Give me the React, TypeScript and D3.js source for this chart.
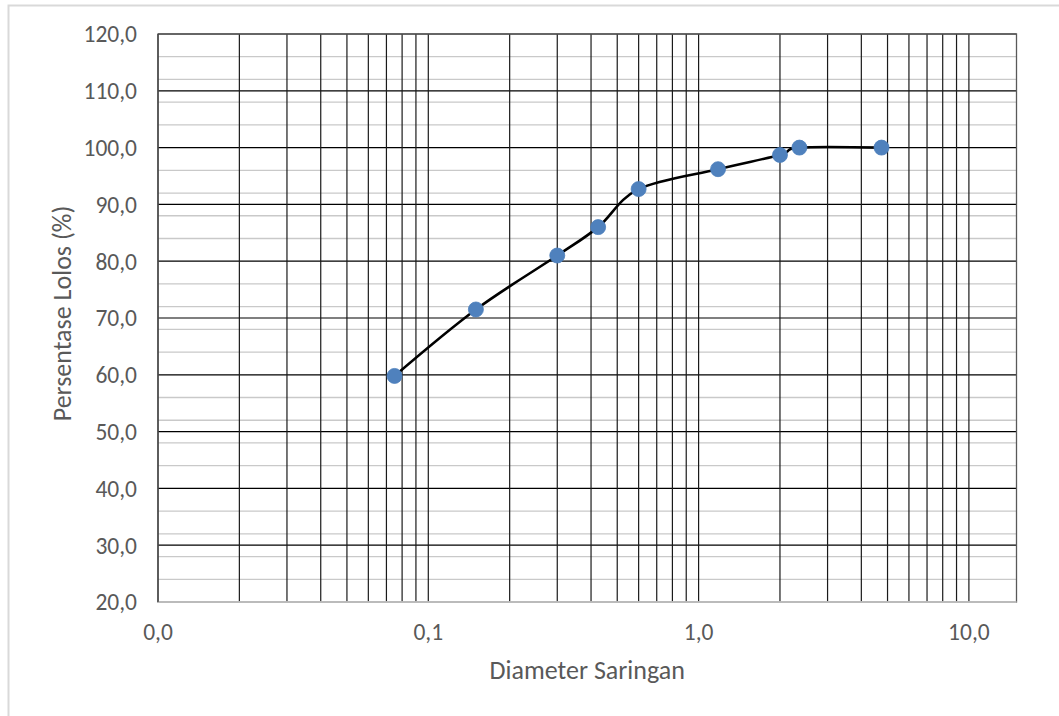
import React from "react";
import * as d3 from "d3";

const sieveSizes = [0.075, 0.15, 0.3, 0.425, 0.6, 1.18, 2.0, 2.36, 4.75];
const passingPct = [59.8, 71.5, 81.0, 86.0, 92.7, 96.2, 98.7, 100.0, 100.0];
const xTickValues = [0.01, 0.1, 1, 10];
const xTickLabels = ["0,0", "0,1", "1,0", "10,0"];
const yMajorTicks = [20, 30, 40, 50, 60, 70, 80, 90, 100, 110, 120];
const xTitle = "Diameter Saringan";
const yTitle = "Persentase Lolos (%)";

export default function App() {
  const W = 1059, H = 716;
  const left = 158, right = 1016.5, top = 34, bottom = 602;
  const x = d3.scaleLog().domain([0.01, 15]).range([left, right]);
  const y = d3.scaleLinear().domain([20, 120]).range([bottom, top]);

  const vLines: number[] = [];
  for (let e = -2; e <= 1; e++) {
    for (let m = 1; m <= 9; m++) {
      const v = m * Math.pow(10, e);
      if (v > 0.01 && v <= 15) vLines.push(v);
    }
  }
  const minorY: number[] = [];
  for (let v = 24; v < 120; v += 4) if (v % 10 !== 0) minorY.push(v);

  const line = d3
    .line<number>()
    .x((_, i) => x(sieveSizes[i]))
    .y((d) => y(d))
    .curve(d3.curveCardinal.tension(0));

  const font = "Carlito, Calibri, 'Open Sans', sans-serif";

  return (
    <svg width={W} height={H} style={{ position: "absolute", left: 0, top: 0 }}>
      <rect x={0} y={0} width={W} height={H} fill="#fff" />
      <rect x={8.5} y={5.5} width={1060} height={800} fill="none" stroke="#d9d9d9" strokeWidth={2} />
      {minorY.map((v) => (
        <line key={"my" + v} x1={left} x2={right} y1={y(v)} y2={y(v)} stroke="#c9c9c9" strokeWidth={1.3} />
      ))}
      {yMajorTicks.map((v) => (
        <line key={"My" + v} x1={left} x2={right} y1={y(v)} y2={y(v)} stroke="#000" strokeWidth={1.2} />
      ))}
      {vLines.map((v) => (
        <line key={"vx" + v} x1={x(v)} x2={x(v)} y1={top} y2={bottom} stroke="#1a1a1a" strokeWidth={1.2} />
      ))}
      <rect x={left} y={top} width={right - left} height={bottom - top} fill="none" stroke="#595959" strokeWidth={1.3} />
      <line x1={left} x2={right} y1={bottom} y2={bottom} stroke="#d9d9d9" strokeWidth={1.5} />
      <line x1={left} x2={left} y1={top} y2={bottom} stroke="#404040" strokeWidth={1.3} />
      {yMajorTicks.map((v) => (
        <text key={"yl" + v} x={137} y={y(v) + 8.3} textAnchor="end" fontFamily={font} fontSize={23.5} fill="#595959">
          {(v.toFixed(1)).replace(".", ",")}
        </text>
      ))}
      {xTickValues.map((v, i) => (
        <text key={"xl" + v} x={x(v)} y={640} textAnchor="middle" fontFamily={font} fontSize={23.5} fill="#595959">
          {xTickLabels[i]}
        </text>
      ))}
      <text x={(left + right) / 2} y={679} textAnchor="middle" fontFamily={font} fontSize={26} fill="#595959">
        {xTitle}
      </text>
      <text
        transform={`translate(70.5, 313.5) rotate(-90)`}
        textAnchor="middle"
        fontFamily={font}
        fontSize={26}
        fill="#595959"
      >
        {yTitle}
      </text>
      <path d={line(passingPct) || ""} fill="none" stroke="#000" strokeWidth={2.6} />
      {passingPct.map((v, i) => (
        <circle key={"p" + i} cx={x(sieveSizes[i])} cy={y(v)} r={7.5} fill="#4f81bd" stroke="#4a7ebb" strokeWidth={0.8} />
      ))}
    </svg>
  );
}
